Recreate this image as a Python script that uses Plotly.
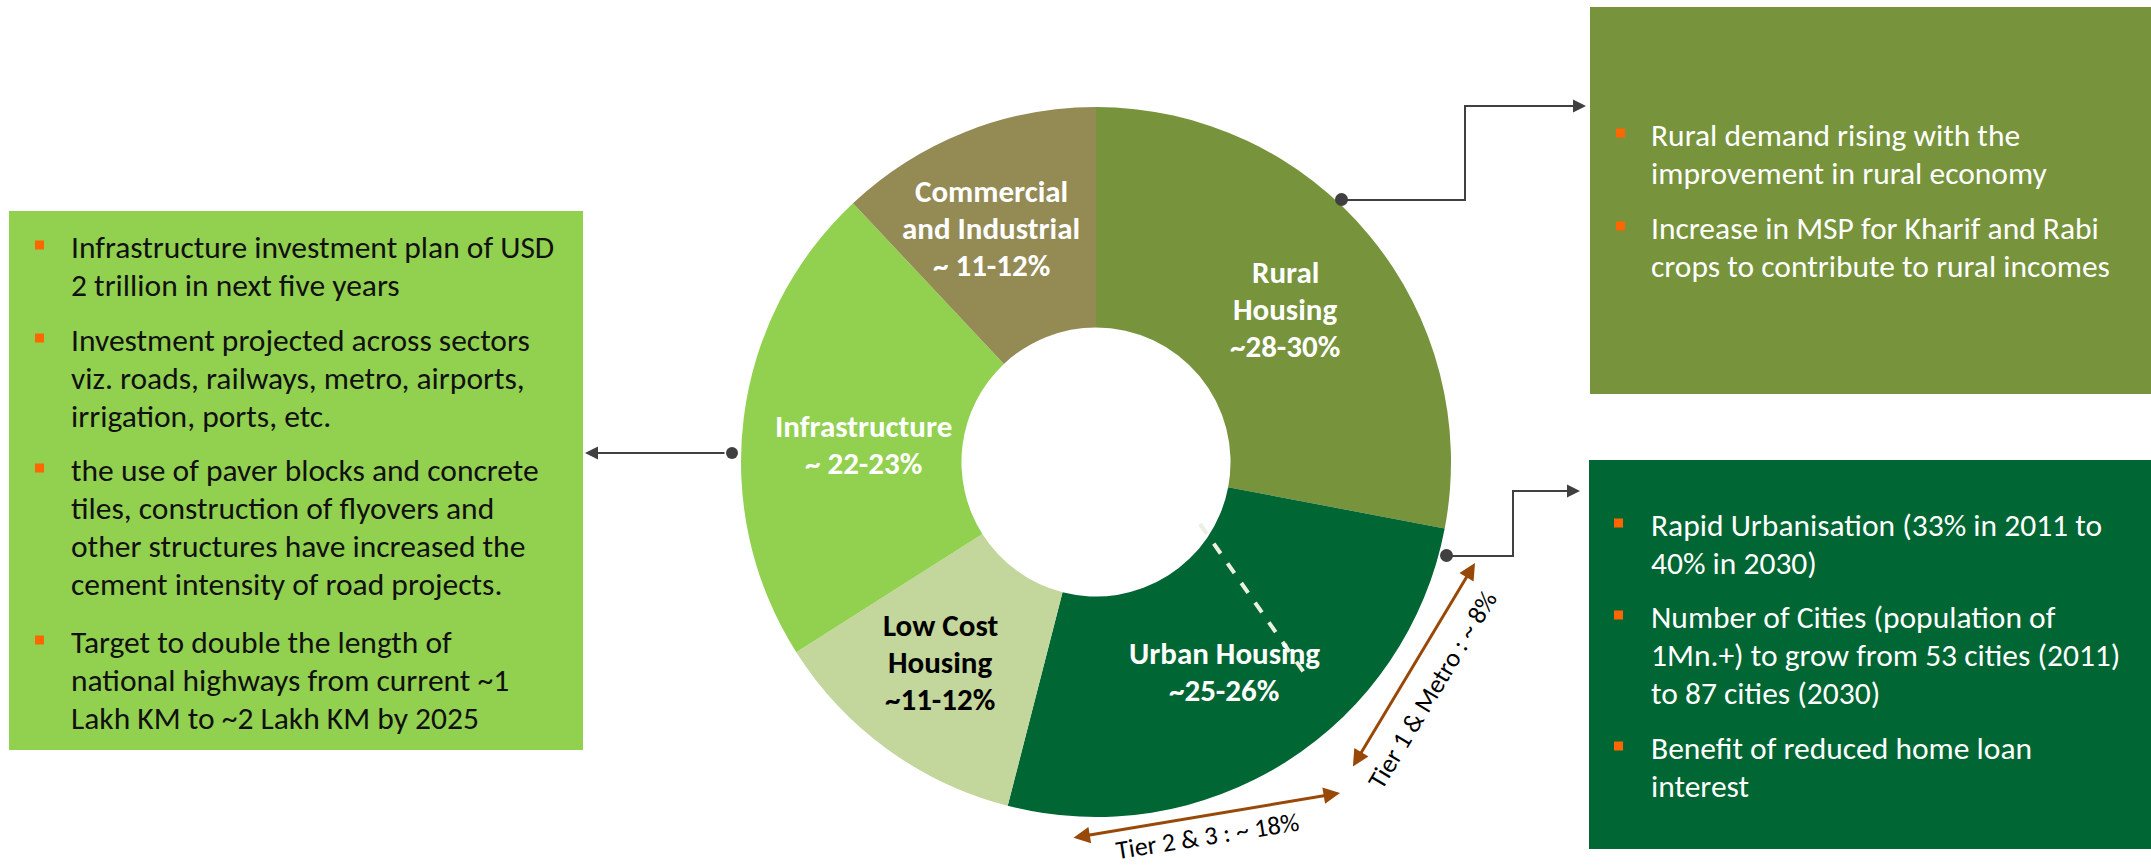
import plotly.graph_objects as go

W, H = 2151, 865

# ---- data ----
segments = ["Rural Housing", "Urban Housing", "Low Cost Housing", "Infrastructure", "Commercial and Industrial"]
shares = [28, 26, 12, 22, 12]
seg_labels = [["Rural", "Housing", "~28-30%"], ["Urban Housing", "~25-26%"], ["Low Cost", "Housing", "~11-12%"],
              ["Infrastructure", "~ 22-23%"], ["Commercial", "and Industrial", "~ 11-12%"]]
seg_colors = ["#77933C", "#006633", "#C3D69B", "#92D050", "#948A54"]
seg_text_colors = ["white", "white", "black", "white", "white"]

infra_points = [
    ["Infrastructure investment plan of USD", "2 trillion in next five years"],
    ["Investment projected across sectors", "viz. roads, railways, metro, airports,", "irrigation, ports, etc."],
    ["the use of paver blocks and concrete", "tiles, construction of flyovers and",
     "other structures have increased the", "cement intensity of road projects."],
    ["Target to double the length of", "national highways from current ~1", "Lakh KM to ~2 Lakh KM by 2025"],
]
rural_points = [
    ["Rural demand rising with the", "improvement in rural economy"],
    ["Increase in MSP for Kharif and Rabi", "crops to contribute to rural incomes"],
]
urban_points = [
    ["Rapid Urbanisation (33% in 2011 to", "40% in 2030)"],
    ["Number of Cities (population of", "1Mn.+) to grow from 53 cities (2011)", "to 87 cities (2030)"],
    ["Benefit of reduced home loan", "interest"],
]
tier_labels = ["Tier 1 & Metro : ~ 8%", "Tier 2 & 3 : ~ 18%"]

# ---- layout helpers ----
CX, CY, R = 1096, 462, 355
FONT = "Carlito, Calibri, Lato, sans-serif"
LS = 38  # line spacing px

fig = go.Figure()
fig.add_trace(go.Pie(
    labels=segments, values=shares, sort=False, direction="clockwise", rotation=0,
    hole=0.379, marker=dict(colors=seg_colors, line=dict(width=0)),
    textinfo="none", hoverinfo="label+value", showlegend=False,
    domain=dict(x=[(CX - R) / W, (CX + R) / W], y=[(H - CY - R) / H, (H - CY + R) / H]),
))
fig.add_trace(go.Scatter(x=[0, W], y=[0, H], mode="markers", marker=dict(opacity=0), hoverinfo="skip", showlegend=False))

shapes = []
ann = []

def text_line(x, y, t, size, color, bold=False, xanchor="left"):
    ann.append(dict(x=x, y=y, xref="x", yref="y", text=("<b>%s</b>" % t) if bold else t, showarrow=False,
                    xanchor=xanchor, yanchor="middle", font=dict(family=FONT, size=size, color=color)))

# slice labels
label_pos = [(1285, 272), (1224, 653), (940, 625), (863, 426), (991, 191)]
for lines, (x, y), c in zip(seg_labels, label_pos, seg_text_colors):
    for i, t in enumerate(lines):
        text_line(x, y + i * 37, t, 31, c, bold=True, xanchor="center")

# dashed divider in urban slice
shapes.append(dict(type="line", xref="x", yref="y", x0=1200, y0=524, x1=1305, y1=674,
                   line=dict(color="#EBF1DE", width=4, dash="dash")))

def bullet_box(points, starts, tx, bx, size, color):
    for lines, y0 in zip(points, starts):
        shapes.append(dict(type="rect", xref="x", yref="y", x0=bx, y0=y0 - 6.5, x1=bx + 9, y1=y0 + 2.5,
                           fillcolor="#FF6600", line=dict(width=0)))
        for i, t in enumerate(lines):
            text_line(tx, y0 + i * LS, t, size, color)

# left box
shapes.append(dict(type="rect", xref="x", yref="y", x0=9, y0=211, x1=583, y1=750,
                   fillcolor="#92D050", line=dict(width=0), layer="below"))
bullet_box(infra_points, [247, 340, 470, 642], 69, 35, 31.5, "#111111")

# rural box
shapes.append(dict(type="rect", xref="x", yref="y", x0=1590, y0=7, x1=2151, y1=394,
                   fillcolor="#77933C", line=dict(width=0), layer="below"))
bullet_box(rural_points, [135, 228], 1649, 1616, 31.5, "white")

# urban box
shapes.append(dict(type="rect", xref="x", yref="y", x0=1589, y0=460, x1=2151, y1=849,
                   fillcolor="#006633", line=dict(width=0), layer="below"))
bullet_box(urban_points, [525, 617, 748], 1649, 1614, 31.5, "white")

# connectors
LC = "#404040"
ann.append(dict(x=585, y=453, ax=726, ay=453, xref="x", yref="y", axref="x", ayref="y", text="",
                showarrow=True, arrowhead=2, arrowsize=1.3, arrowwidth=2, arrowcolor=LC))
shapes.append(dict(type="circle", xref="x", yref="y", x0=726, y0=447, x1=738, y1=459, fillcolor=LC, line=dict(width=0)))
shapes.append(dict(type="path", xref="x", yref="y", path="M 1341 200 L 1465 200 L 1465 106 L 1500 106",
                   line=dict(color=LC, width=2)))
ann.append(dict(x=1586, y=106, ax=1498, ay=106, xref="x", yref="y", axref="x", ayref="y", text="",
                showarrow=True, arrowhead=2, arrowsize=1.3, arrowwidth=2, arrowcolor=LC))
shapes.append(dict(type="circle", xref="x", yref="y", x0=1335, y0=193, x1=1348, y1=206, fillcolor=LC, line=dict(width=0)))
shapes.append(dict(type="path", xref="x", yref="y", path="M 1447 556 L 1513 556 L 1513 491 L 1530 491",
                   line=dict(color=LC, width=2)))
ann.append(dict(x=1580, y=491, ax=1528, ay=491, xref="x", yref="y", axref="x", ayref="y", text="",
                showarrow=True, arrowhead=2, arrowsize=1.3, arrowwidth=2, arrowcolor=LC))
shapes.append(dict(type="circle", xref="x", yref="y", x0=1440, y0=549, x1=1453, y1=562, fillcolor=LC, line=dict(width=0)))

# tier arrows
BR = "#984807"
ann.append(dict(x=1475, y=563, ax=1352, ay=768, xref="x", yref="y", axref="x", ayref="y", text="",
                showarrow=True, arrowhead=2, arrowside="end+start", arrowsize=1.1, arrowwidth=3, arrowcolor=BR))
ann.append(dict(x=1340, y=793, ax=1072, ay=838, xref="x", yref="y", axref="x", ayref="y", text="",
                showarrow=True, arrowhead=2, arrowside="end+start", arrowsize=1.1, arrowwidth=3, arrowcolor=BR))
ann.append(dict(x=1432, y=690, xref="x", yref="y", text=tier_labels[0], showarrow=False, textangle=-59,
                font=dict(family=FONT, size=26, color="black")))
ann.append(dict(x=1207, y=836, xref="x", yref="y", text=tier_labels[1], showarrow=False, textangle=-9,
                font=dict(family=FONT, size=26, color="black")))

fig.update_layout(
    width=W, height=H, margin=dict(l=0, r=0, t=0, b=0),
    paper_bgcolor="white", plot_bgcolor="rgba(0,0,0,0)",
    xaxis=dict(range=[0, W], visible=False, fixedrange=True),
    yaxis=dict(range=[H, 0], visible=False, fixedrange=True),
    shapes=shapes, annotations=ann, showlegend=False,
)
fig.write_html("out.html")
